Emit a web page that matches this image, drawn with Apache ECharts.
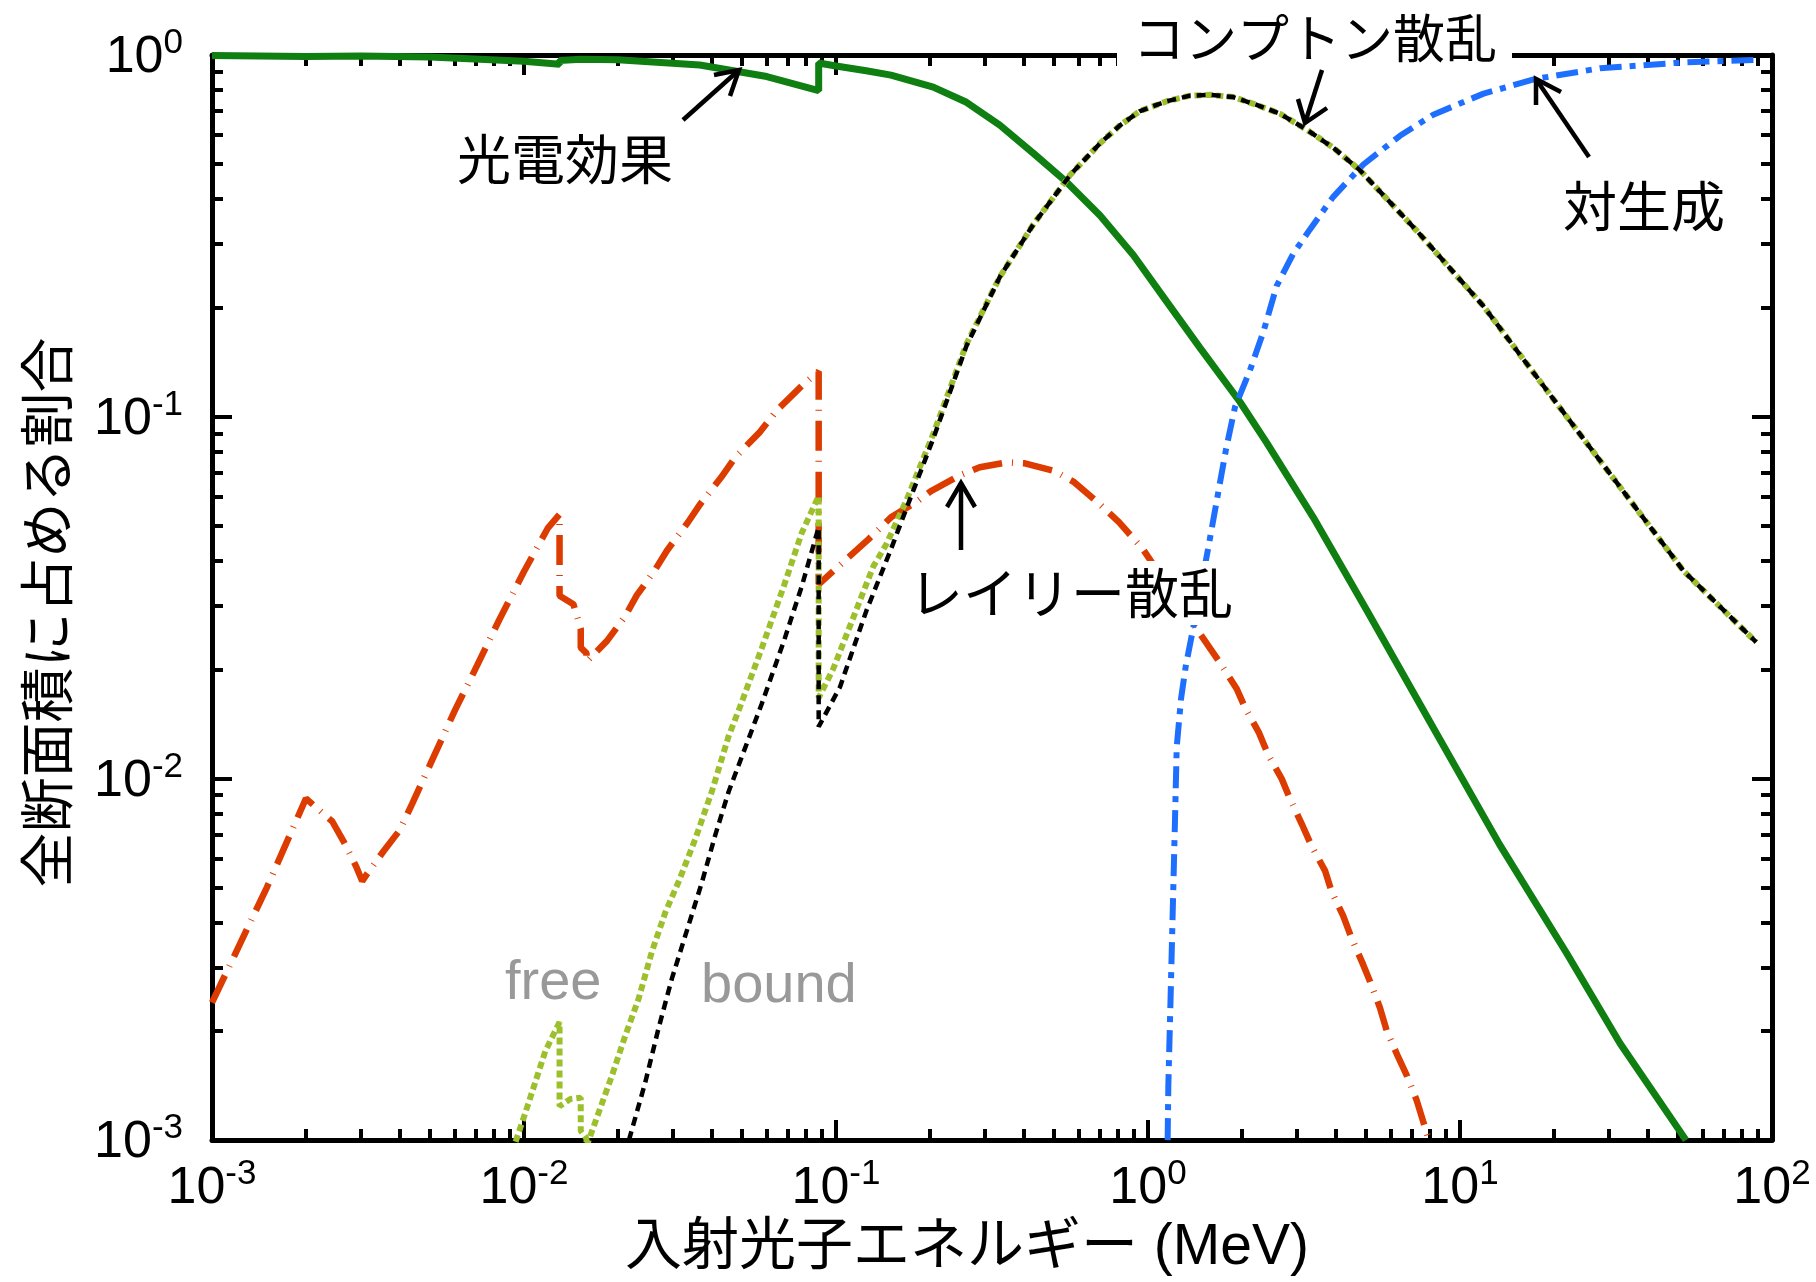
<!DOCTYPE html>
<html>
<head>
<meta charset="utf-8">
<script src="https://cdn.jsdelivr.net/npm/echarts@6/dist/echarts.min.js"></script>
<style>
html,body{margin:0;padding:0;background:#fff;}
#c{width:1816px;height:1282px;}
</style>
</head>
<body>
<div id="c"></div>
<script>
// ---------- data (energy in MeV, fraction of total cross section) ----------
const photoelectric = [
  [0.001,0.997],[0.002,0.991],[0.003,0.994],[0.005,0.988],[0.010,0.961],[0.013,0.943],[0.013,0.966],
  [0.0152,0.973],[0.020,0.970],[0.0366,0.938],[0.060,0.872],[0.088,0.797],[0.088,0.950],[0.100,0.932],
  [0.125,0.905],[0.150,0.880],[0.205,0.815],[0.262,0.740],[0.335,0.640],[0.429,0.535],[0.549,0.445],
  [0.702,0.360],[0.897,0.280],[1.148,0.208],[1.468,0.155],[1.97,0.110],[2.40,0.0848],
  [3.39,0.0526],[5.02,0.0292],[8.21,0.0138],[13.4,0.00656],[22.0,0.00328],
  [32.6,0.00185],[53.0,0.00100]
];
const rayleigh = [
  [0.001,0.0024],[0.0015,0.0050],[0.002,0.0088],[0.00243,0.0076],[0.00264,0.0067],[0.0029,0.0057],
  [0.00303,0.0052],[0.00312,0.0054],[0.00355,0.0063],[0.0040,0.0072],[0.00438,0.0085],[0.00514,0.0115],
  [0.0060,0.0154],[0.00707,0.0205],[0.00834,0.0275],[0.00998,0.0372],[0.01194,0.0493],[0.0130,0.0537],
  [0.0130,0.0320],[0.0144,0.0303],[0.0152,0.0259],[0.0152,0.0230],[0.01586,0.0222],[0.01586,0.0210],
  [0.01845,0.0240],[0.0211,0.0281],[0.0230,0.0321],[0.0263,0.0377],[0.0287,0.0426],[0.0335,0.0510],
  [0.0367,0.0573],[0.0428,0.0679],[0.0475,0.0772],[0.0571,0.0908],[0.0646,0.1041],[0.0776,0.1216],
  [0.088,0.1334],[0.088,0.0344],[0.105,0.0395],[0.127,0.0458],[0.150,0.0527],[0.183,0.0585],
  [0.2016,0.0623],[0.250,0.0689],[0.289,0.0725],[0.353,0.0748],[0.403,0.0743],[0.500,0.0708],
  [0.580,0.0659],[0.707,0.0569],[0.807,0.0511],[0.964,0.0430],[1.446,0.0256],[1.70,0.0209],
  [1.924,0.0177],[2.046,0.0157],[2.27,0.01336],[2.424,0.01165],[2.683,0.00997],[2.852,0.00879],
  [3.109,0.00749],[3.348,0.00649],[3.692,0.00556],[3.88,0.00486],[4.217,0.00418],[4.497,0.00361],
  [4.89,0.00306],[5.145,0.00275],[5.54,0.00232],[5.82,0.00201],[6.33,0.00170],[6.75,0.00151],
  [7.26,0.00129],[7.61,0.00113],[8.01,0.00098]
];
const comptonFree = [
  [0.0094,0.00099],[0.0101,0.00119],[0.0117,0.00176],[0.0130,0.00212],[0.0130,0.00124],[0.0141,0.00130],
  [0.0152,0.00131],[0.0152,0.00106],[0.01586,0.00101],[0.01586,0.00096],[0.0174,0.00120],[0.0191,0.00150],
  [0.0211,0.00194],[0.0233,0.00246],[0.0257,0.00332],[0.0284,0.00427],[0.0313,0.00518],[0.0354,0.0068],
  [0.040,0.0092],[0.0453,0.0131],[0.049,0.0156],[0.0577,0.0228],[0.0681,0.0341],[0.0777,0.0478],
  [0.088,0.0604],[0.088,0.0167],[0.098,0.0201],[0.1316,0.0385],[0.145,0.0444],[0.1685,0.059],
  [0.205,0.0896],[0.262,0.159],[0.335,0.2435],[0.429,0.340],[0.562,0.465],[0.702,0.570],[0.813,0.639],
  [0.943,0.700],[1.148,0.745],[1.363,0.772],[1.58,0.776],[1.877,0.765],[2.23,0.728],[2.65,0.688],
  [3.23,0.621],[3.93,0.554],[4.78,0.480],[7.26,0.327],[11.9,0.202],
  [19.4,0.1153],[31.8,0.0657],[52.0,0.0375],[89.0,0.0238]
];
const comptonBound = [
  [0.0217,0.00100],[0.0245,0.00145],[0.0270,0.00204],[0.0298,0.00280],[0.0329,0.00368],[0.0372,0.00517],
  [0.041,0.00696],[0.0453,0.0092],[0.0577,0.0160],[0.0681,0.0240],[0.0777,0.0340],[0.088,0.0495],
  [0.088,0.0139],[0.103,0.0179],[0.125,0.0290],[0.150,0.043],[0.1685,0.056],[0.205,0.087],[0.262,0.157],
  [0.335,0.2435],[0.429,0.340],[0.562,0.465],[0.702,0.570],[0.813,0.639],[0.943,0.700],[1.148,0.745],
  [1.363,0.772],[1.58,0.776],[1.877,0.765],[2.23,0.728],[2.65,0.688],[3.23,0.621],[3.93,0.554],
  [4.78,0.480],[7.26,0.327],[11.9,0.202],[19.4,0.1153],[31.8,0.0657],
  [52.0,0.0375],[89.0,0.0238]
];
const pairProduction = [
  [1.156,0.0010],[1.162,0.00142],[1.182,0.00252],[1.20,0.00426],[1.22,0.00757],[1.236,0.0122],
  [1.276,0.0166],[1.321,0.0204],[1.388,0.0254],[1.557,0.043],[1.664,0.0591],[1.778,0.0812],[1.90,0.1063],
  [2.12,0.134],[2.34,0.171],[2.585,0.230],[2.92,0.282],[3.30,0.329],[3.93,0.406],[4.90,0.498],
  [6.42,0.598],[8.21,0.684],[11.9,0.782],[17.4,0.858],[28.1,0.919],[52.0,0.954],[89.0,0.970]
];
// tick values
const xMinorTicks = [0.002,0.003,0.004,0.005,0.006,0.007,0.008,0.009,0.02,0.03,0.04,0.05,0.06,0.07,0.08,0.09,
  0.2,0.3,0.4,0.5,0.6,0.7,0.8,0.9,2,3,4,5,6,7,8,9,20,30,40,50,60,70,80,90];
const yMinorTicks = [0.002,0.003,0.004,0.005,0.006,0.007,0.008,0.009,0.02,0.03,0.04,0.05,0.06,0.07,0.08,0.09,
  0.2,0.3,0.4,0.5,0.6,0.7,0.8,0.9];
const xAxisTitle = '入射光子エネルギー (MeV)';
const yAxisTitle = '全断面積に占める割合';

// ---------- chart ----------
const LAT = '"Liberation Sans", Arial, sans-serif';
const MIX = '"Liberation Sans", "Noto Sans CJK JP", sans-serif';
const CJK = '"Noto Sans CJK JP", sans-serif';
const rich = {
  b: {fontSize: 52, fontFamily: LAT, color: '#000', lineHeight: 58, verticalAlign: 'bottom'},
  s: {fontSize: 35, fontFamily: LAT, color: '#000', lineHeight: 20, verticalAlign: 'top'}
};
const fmt = v => '{b|10}{s|' + Math.round(Math.log10(v)) + '}';
const lineStyle = {color: '#000', width: 5};

function mainAxis(pos, min, max, margin, extra) {
  return Object.assign({
    type: 'log', logBase: 10, min: min, max: max, position: pos,
    axisLine: {show: true, onZero: false, lineStyle: lineStyle},
    axisTick: {show: true, inside: true, length: 20, lineStyle: {color: '#000', width: 4}},
    minorTick: {show: false},
    splitLine: {show: false},
    axisLabel: margin != null ? {show: true, formatter: fmt, rich: rich, margin: margin} : {show: false}
  }, extra || {});
}
function minorAxis(pos, min, max, vals) {
  return {
    type: 'log', logBase: 10, min: min, max: max, position: pos,
    axisLine: {show: false},
    axisTick: {show: true, inside: true, length: 11, customValues: vals, lineStyle: {color: '#000', width: 4}},
    axisLabel: {show: false}, splitLine: {show: false}
  };
}

const option = {
  backgroundColor: '#fff',
  animation: false,
  grid: {left: 212, right: 44, top: 55, bottom: 140, containLabel: false},
  xAxis: [
    mainAxis('bottom', 0.001, 100, 17, {
      name: xAxisTitle, nameLocation: 'middle', nameGap: 78,
      nameTextStyle: {fontSize: 57, fontFamily: MIX, color: '#000', padding: [0, 50, 0, 0]}
    }),
    mainAxis('top', 0.001, 100, null),
    minorAxis('bottom', 0.001, 100, xMinorTicks),
    minorAxis('top', 0.001, 100, xMinorTicks)
  ],
  yAxis: [
    mainAxis('left', 0.001, 1, 29, {
      name: yAxisTitle, nameLocation: 'middle', nameGap: 138,
      nameTextStyle: {fontSize: 55, fontFamily: CJK, color: '#000', padding: [0, 30, 0, 0]}
    }),
    mainAxis('right', 0.001, 1, null),
    minorAxis('left', 0.001, 1, yMinorTicks),
    minorAxis('right', 0.001, 1, yMinorTicks)
  ],
  series: [
    {name: '光電効果', type: 'line', data: photoelectric, showSymbol: false, z: 2,
      lineStyle: {color: '#0f7f12', width: 7, type: 'solid'}},
    {name: 'レイリー散乱', type: 'line', data: rayleigh, showSymbol: false, z: 3,
      lineStyle: {color: '#dc3c00', width: 6.5, type: [30, 10, 1, 10]}},
    {name: 'free', type: 'line', data: comptonFree, showSymbol: false, z: 4,
      lineStyle: {color: '#9cbf2c', width: 6, type: [7, 4]}},
    {name: 'bound', type: 'line', data: comptonBound, showSymbol: false, z: 5,
      lineStyle: {color: '#000', width: 4.5, type: [9, 6]}},
    {name: '対生成', type: 'line', data: pairProduction, showSymbol: false, z: 6,
      lineStyle: {color: '#1f6fff', width: 6, type: [22, 8, 6, 8]}}
  ],
  graphic: {elements: [
    {type: 'text', x: 457, y: 159, z: 100, style: {text: '光電効果', fontSize: 54, fontFamily: CJK, fill: '#000', verticalAlign: 'middle', align: 'left'}},
    {type: 'text', x: 1117, y: 38, z: 100, style: {text: 'コンプトン散乱', fontSize: 52, fontFamily: CJK, fill: '#000', verticalAlign: 'middle', align: 'left', backgroundColor: '#fff', padding: [14, 15, 16, 16]}},
    {type: 'text', x: 1563, y: 206, z: 100, style: {text: '対生成', fontSize: 54, fontFamily: CJK, fill: '#000', verticalAlign: 'middle', align: 'left'}},
    {type: 'text', x: 903, y: 593, z: 100, style: {text: 'レイリー散乱', fontSize: 54, fontFamily: CJK, fill: '#000', verticalAlign: 'middle', align: 'left', backgroundColor: '#fff', padding: [4, 6, 6, 6]}},
    {type: 'text', x: 505, y: 984, z: 100, style: {text: 'free', fontSize: 56, fontFamily: LAT, fill: '#999999', verticalAlign: 'middle', align: 'left'}},
    {type: 'text', x: 701, y: 987, z: 100, style: {text: 'bound', fontSize: 56, fontFamily: LAT, fill: '#999999', verticalAlign: 'middle', align: 'left'}},
    // arrows
    {type: 'polyline', z: 100, shape: {points: [[683, 120], [739, 70]]}, style: {stroke: '#000', lineWidth: 4.5, fill: null}},
    {type: 'polyline', z: 100, shape: {points: [[714, 75], [739, 70], [730, 96]]}, style: {stroke: '#000', lineWidth: 4.5, fill: null}},
    {type: 'polyline', z: 100, shape: {points: [[1322, 70], [1305, 123]]}, style: {stroke: '#000', lineWidth: 4.5, fill: null}},
    {type: 'polyline', z: 100, shape: {points: [[1298, 99], [1305, 123], [1327, 108]]}, style: {stroke: '#000', lineWidth: 4.5, fill: null}},
    {type: 'polyline', z: 100, shape: {points: [[1589, 157], [1536, 79]]}, style: {stroke: '#000', lineWidth: 4.5, fill: null}},
    {type: 'polyline', z: 100, shape: {points: [[1536, 105], [1536, 79], [1561, 92]]}, style: {stroke: '#000', lineWidth: 4.5, fill: null}},
    {type: 'polyline', z: 100, shape: {points: [[961, 550], [961, 483]]}, style: {stroke: '#000', lineWidth: 4.5, fill: null}},
    {type: 'polyline', z: 100, shape: {points: [[947, 507], [961, 483], [975, 507]]}, style: {stroke: '#000', lineWidth: 4.5, fill: null}}
  ]}
};
const chart = echarts.init(document.getElementById('c'), null, {renderer: 'canvas', width: 1816, height: 1282});
chart.setOption(option);
</script>
</body>
</html>
